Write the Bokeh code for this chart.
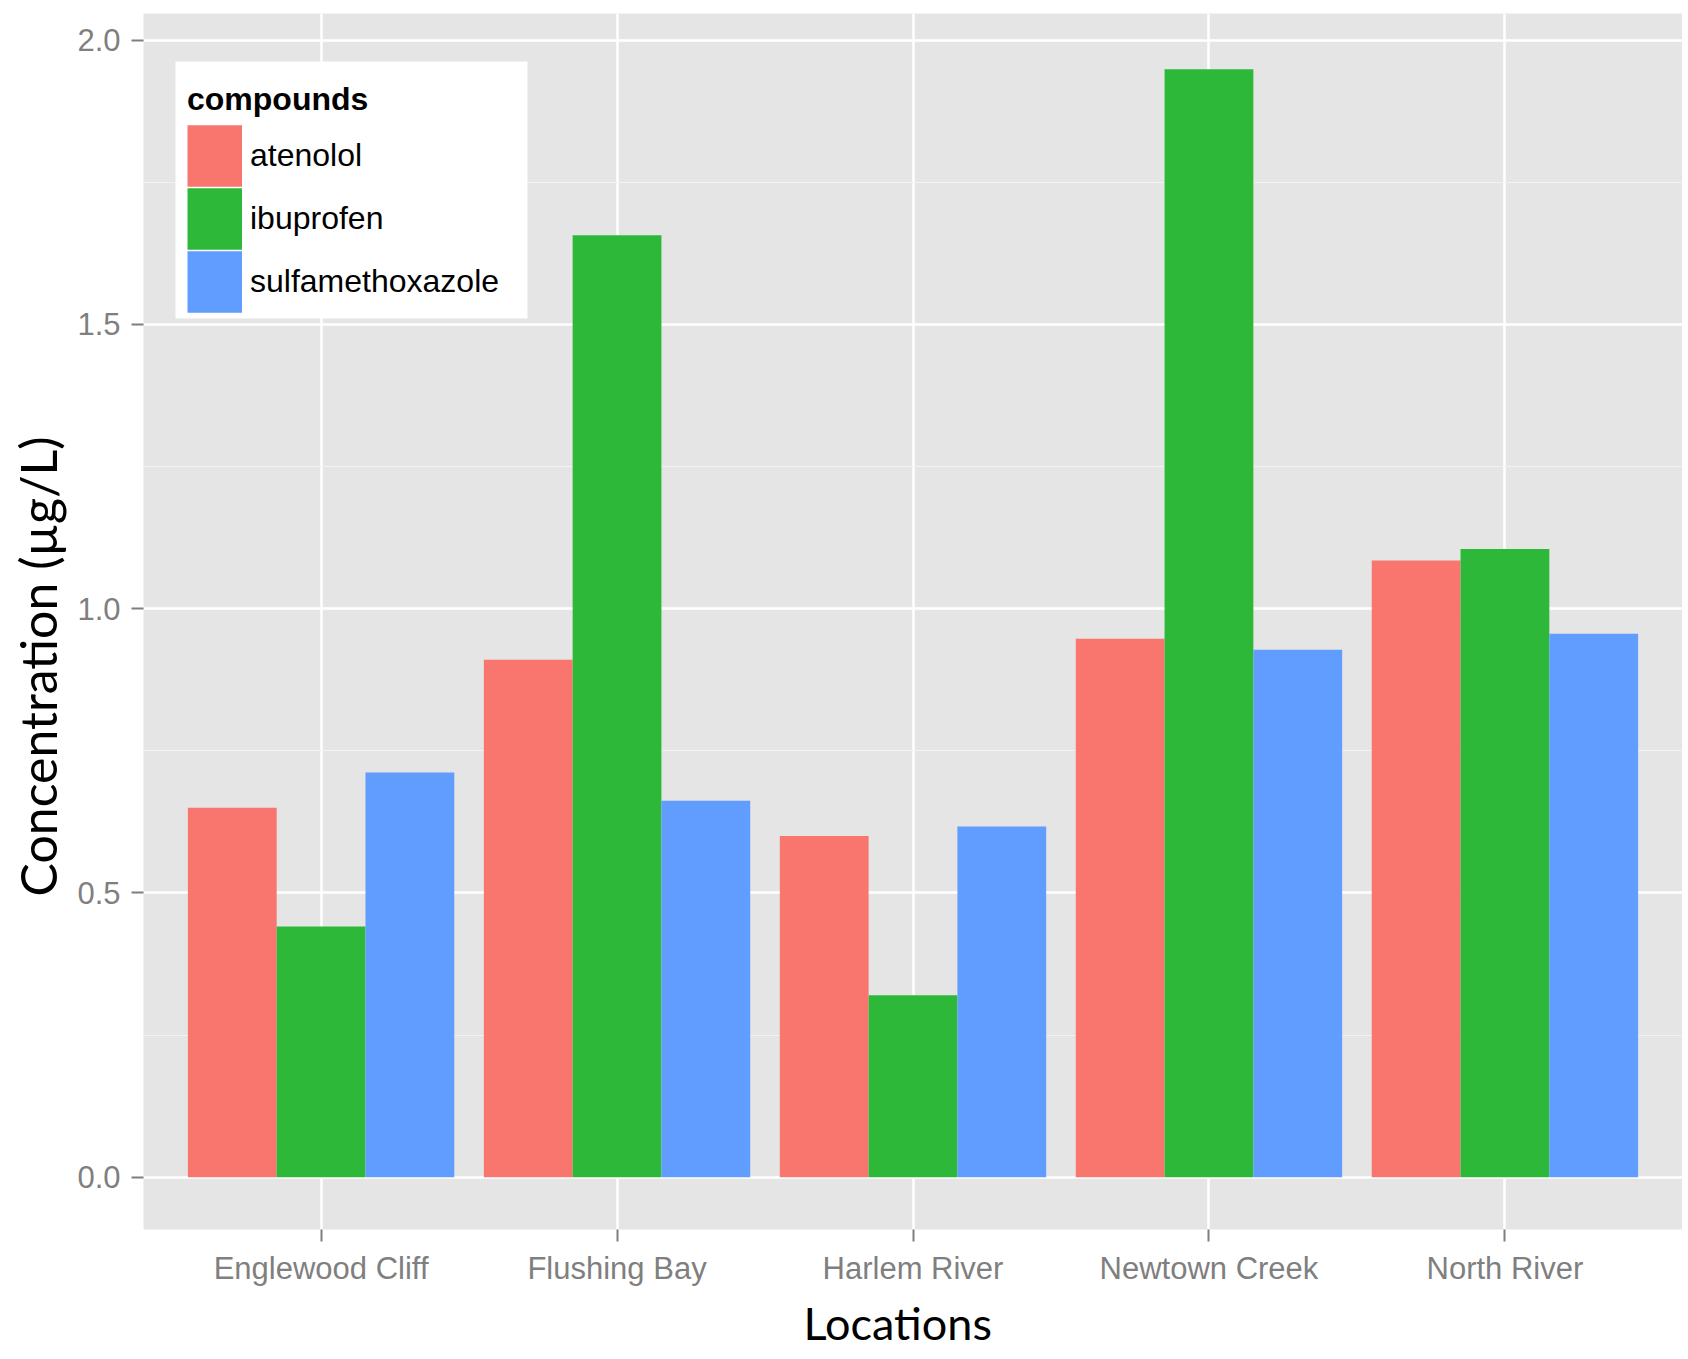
import math
from bokeh.plotting import figure
from bokeh.models import (ColumnDataSource, FactorRange, Range1d, FixedTicker, Legend,
                          LegendItem, Title, BoxAnnotation)
from bokeh.transform import dodge
from bokeh.embed import file_html
from bokeh.resources import INLINE

locations = ["Englewood Cliff", "Flushing Bay", "Harlem River", "Newtown Creek", "North River"]
compounds = ["atenolol", "ibuprofen", "sulfamethoxazole"]
atenolol = [0.65, 0.91, 0.60, 0.947, 1.085]
ibuprofen = [0.441, 1.657, 0.32, 1.949, 1.105]
sulfamethoxazole = [0.712, 0.662, 0.617, 0.928, 0.956]
y_ticks = [0.0, 0.5, 1.0, 1.5, 2.0]
y_minor = [0.25, 0.75, 1.25, 1.75]
colors = ["#F8766D", "#2EB83A", "#619CFF"]
x_title = "Locations"
y_title = "Concentration (µg/L)"

source = ColumnDataSource(dict(location=locations, atenolol=atenolol,
                               ibuprofen=ibuprofen, sulfamethoxazole=sulfamethoxazole))

p = figure(width=1682, height=1359, output_backend="svg", toolbar_location=None,
           x_range=FactorRange(factors=locations, range_padding=0.1, range_padding_units="absolute"),
           y_range=Range1d(-0.092, 2.047),
           min_border_left=143, min_border_right=0, min_border_top=13, min_border_bottom=130)

p.background_fill_color = "#E5E5E5"
p.border_fill_color = "white"
p.outline_line_color = None

offsets = [-0.3, 0.0, 0.3]
legend_items = []
for comp, off, col in zip(compounds, offsets, colors):
    p.vbar(x=dodge("location", off, range=p.x_range), top=comp, bottom=0, width=0.3,
           source=source, fill_color=col, line_color=None)
    # legend-key-only renderer (NaN height: nothing drawn in the plot); the thick
    # same-colour outline makes the key fill its whole box like ggplot's keys
    key = p.vbar(x=[locations[0]], top=[math.nan], width=0.3, fill_color=col, line_color=col,
                 line_width=11, line_join="miter")
    legend_items.append(LegendItem(label=comp, renderers=[key]))

# grid
p.ygrid.ticker = FixedTicker(ticks=y_ticks, minor_ticks=y_minor)
p.ygrid.grid_line_color = "white"
p.ygrid.grid_line_width = 2.5
p.ygrid.minor_grid_line_color = "#F2F2F2"
p.ygrid.minor_grid_line_width = 1.2
p.xgrid.grid_line_color = "white"
p.xgrid.grid_line_width = 2.5

# axes
p.yaxis.ticker = FixedTicker(ticks=y_ticks, minor_ticks=y_minor)
p.yaxis.major_label_overrides = {t: f"{t:.1f}" for t in y_ticks}
for ax in (p.xaxis[0], p.yaxis[0]):
    ax.axis_line_color = None
    ax.major_tick_line_color = "#7F7F7F"
    ax.major_tick_line_width = 2
    ax.major_tick_out = 12
    ax.major_tick_in = 0
    ax.minor_tick_line_color = None
    ax.major_label_text_font = "Liberation Sans"
    ax.major_label_text_font_size = "31px"
    ax.major_label_text_color = "#7F7F7F"

p.xaxis.major_label_standoff = 9
p.yaxis.major_label_standoff = 11

# axis titles as side titles, positioned like the reference
p.add_layout(Title(text=x_title, align="left", offset=660, text_font="Lato",
                   text_font_size="45px", text_font_style="normal", text_color="black",
                   standoff=11), "below")
p.add_layout(Title(text=y_title, align="left", offset=333, vertical_align="top",
                   text_font="Lato", text_font_size="50px", text_font_style="normal",
                   text_color="black", standoff=10), "left")

# white legend panel (ggplot style padding around the legend)
p.add_layout(BoxAnnotation(left=32, right=384, bottom=911, top=1168,
                           left_units="screen", right_units="screen",
                           bottom_units="screen", top_units="screen",
                           fill_color="white", fill_alpha=1.0, line_color=None))

legend = Legend(items=legend_items, location=(44, 916), title="compounds")
legend.title_text_font = "Liberation Sans"
legend.title_text_font_style = "bold"
legend.title_text_font_size = "32px"
legend.title_text_color = "black"
legend.title_standoff = 6
legend.label_text_font = "Liberation Sans"
legend.label_text_font_size = "32px"
legend.label_text_color = "black"
legend.glyph_width = 55
legend.glyph_height = 63
legend.label_height = 63
legend.label_standoff = 8
legend.spacing = 0
legend.padding = 0
legend.margin = 0
legend.border_line_color = None
legend.background_fill_color = "white"
legend.background_fill_alpha = 1.0
p.add_layout(legend, "center")

open("out.html", "w").write(file_html(p, INLINE))
